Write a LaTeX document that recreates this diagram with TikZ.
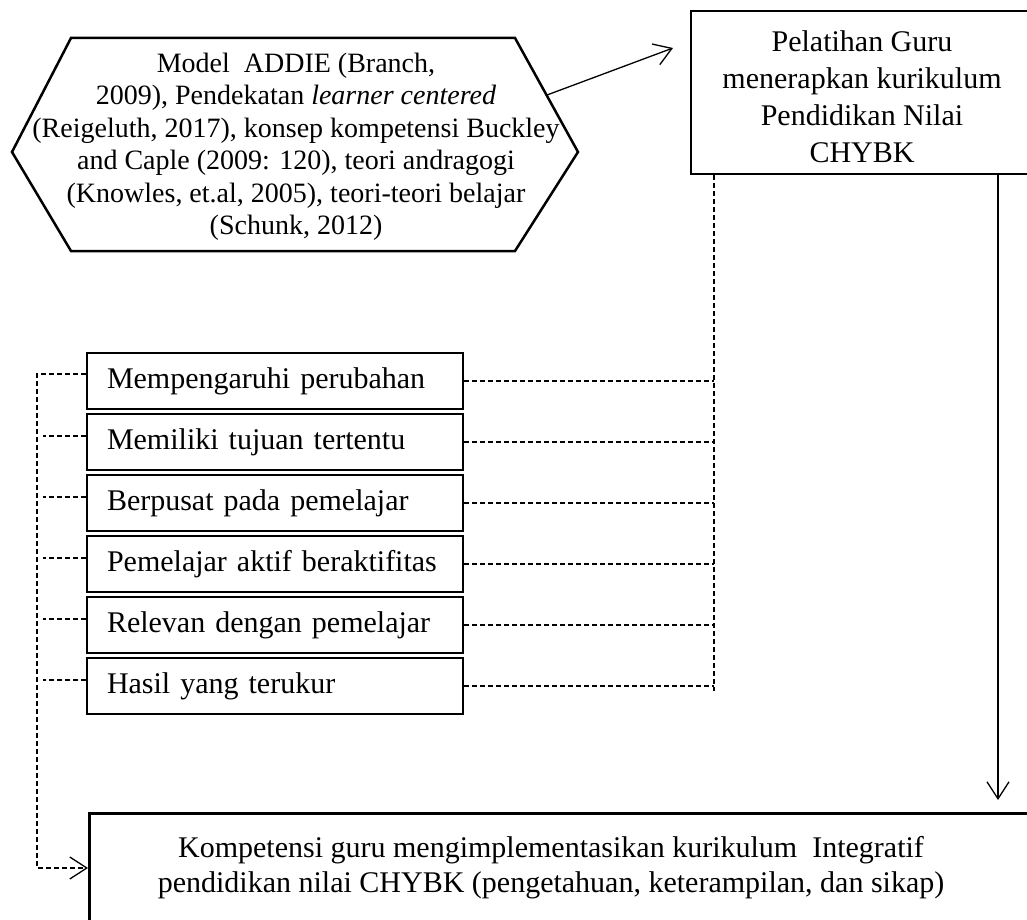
\documentclass[tikz,border=0pt]{standalone}
\usepackage{fontspec}
\setmainfont{Liberation Serif}
\usetikzlibrary{arrows.meta}
\begin{document}
\begin{tikzpicture}[x=1pt,y=-1pt,
  box/.style={draw, line width=2.8pt, inner sep=0pt},
  item/.style={box, minimum width=376pt, minimum height=56pt, text width=336pt,
    align=left, font=\fontsize{30}{36}\selectfont},
  link/.style={line width=1.3pt},
  dlink/.style={line width=1.2pt, dash pattern=on 5pt off 3pt},
  barb/.style={-{Straight Barb[length=17pt,width=22pt,line width=1.3pt]}},
]
\clip (0,0) rectangle (1027,920);
\fill[white] (0,0) rectangle (1027,920);

% theory hexagon
\coordinate (htl) at (71,38);
\coordinate (htr) at (515,38);
\coordinate (hr)  at (578,152);
\coordinate (hbr) at (515,251);
\coordinate (hbl) at (71,251);
\coordinate (hl)  at (12,152);
\draw[line width=2.5pt, line join=miter] (htl) -- (htr) -- (hr) -- (hbr) -- (hbl) -- (hl) -- cycle;
\node[align=center, font=\fontsize{28}{32.5}\selectfont] (theory) at (296,147)
  {Model\ \ ADDIE (Branch,\\
   2009), Pendekatan \textit{learner centered}\\
   (Reigeluth, 2017), konsep kompetensi Buckley\\
   and Caple (2009: 120), teori andragogi\\
   (Knowles, et.al, 2005), teori-teori belajar\\
   (Schunk, 2012)};
\coordinate (hout) at (547,95);
\coordinate (toptip) at (673,48);
\draw[link, barb] (hout) -- (toptip);

% training box
\node[box, minimum width=342pt, minimum height=163pt] (train) at (862,92.5) {};
\node[align=center, font=\fontsize{30}{37}\selectfont] (traintext) at (862,97)
  {Pelatihan Guru\\ menerapkan kurikulum\\ Pendidikan Nilai\\ CHYBK};

% principle boxes
\node[item] (i1) at (275,381) {Mempengaruhi perubahan};
\node[item] (i2) at (275,442) {Memiliki tujuan tertentu};
\node[item] (i3) at (275,503) {Berpusat pada pemelajar};
\node[item] (i4) at (275,564) {Pemelajar aktif beraktifitas};
\node[item] (i5) at (275,625) {Relevan dengan pemelajar};
\node[item] (i6) at (275,686) {Hasil yang terukur};

% competence box
\node[box, minimum width=942pt, minimum height=115pt, anchor=north west] (goal) at (88,812) {};
\node[align=center, font=\fontsize{30}{35}\selectfont] (goaltext) at (551,868)
  {Kompetensi guru mengimplementasikan kurikulum\ \ Integratif\\
   pendidikan nilai CHYBK (pengetahuan, keterampilan, dan sikap)};

% solid flow from training to competence
\coordinate (downtip) at (998,800);
\draw[link, barb] (train.south -| downtip) -- (downtip);

% right dashed bus
\coordinate (rbus) at (714,691);
\draw[dlink] (train.south -| rbus) -- (rbus);
\foreach \i in {1,...,6} {
  \draw[dlink] (i\i.east) -- (i\i.east -| rbus);
}

% left dashed bus into the competence box
\coordinate (lbus) at (37,868);
\draw[dlink, barb] ([yshift=7pt]i1.west) -- ([yshift=7pt]i1.west -| lbus) -- (lbus) -- (goal.west |- lbus);
\foreach \i in {2,...,6} {
  \draw[dlink] ([yshift=6pt]i\i.west) -- ++(-43,0);
}
\end{tikzpicture}
\end{document}
